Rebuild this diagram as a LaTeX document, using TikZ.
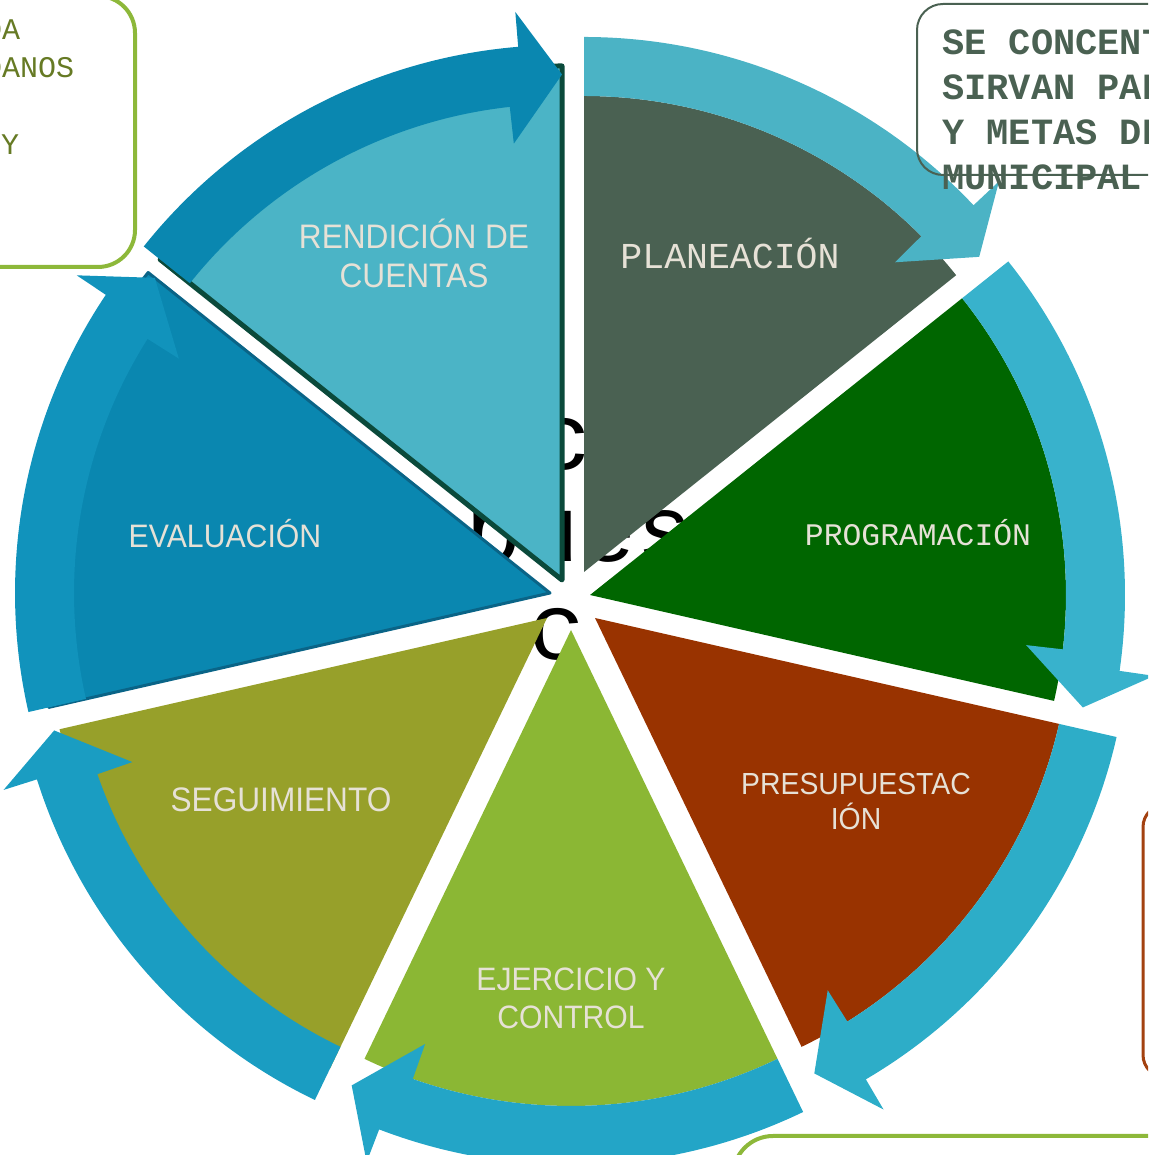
\documentclass[tikz,border=0pt]{standalone}
\usepackage{fontspec}
\setmainfont{Liberation Sans}
\newfontfamily\monofnt{Liberation Mono}
\newfontfamily\lblfont[FakeStretch=0.93]{Liberation Sans}
\definecolor{cPlan}{HTML}{4A6152}
\definecolor{cProg}{HTML}{006600}
\definecolor{cPres}{HTML}{993300}
\definecolor{cEjer}{HTML}{8BB734}
\definecolor{cSegu}{HTML}{97A02A}
\definecolor{cEval}{HTML}{0A87B0}
\definecolor{cRend}{HTML}{4BB4C6}
\definecolor{bEval}{HTML}{0A6487}
\definecolor{bRend}{HTML}{0B4A3B}
\definecolor{aPlan}{HTML}{4BB3C5}
\definecolor{aProg}{HTML}{38B2CC}
\definecolor{aPres}{HTML}{2DADC8}
\definecolor{aEjer}{HTML}{23A5C7}
\definecolor{aSegu}{HTML}{1A9DC2}
\definecolor{aEval}{HTML}{1193BC}
\definecolor{aRend}{HTML}{0A87B0}
\definecolor{lbl}{HTML}{E6E1D6}
\definecolor{boxGreen}{HTML}{8DB83A}
\definecolor{boxOlive}{HTML}{667A24}
\definecolor{boxBrown}{HTML}{A34110}
% wedge: cx, cy, a, b, R, style
\newcommand\mywedge[6]{%
  \fill[#6, shift={(#1,#2)}] (0,0) -- (#3:#5) arc[start angle=#3, end angle=#4, radius=#5] -- cycle;}
% cycle arrow: cx, cy, a, b, color
\newcommand\myarrow[5]{%
  \fill[#5, shift={(#1,#2)}] (#3:535) arc[start angle=#3, end angle={#4+4.7}, radius=535]
    -- ({#4+4.7}:570) -- (#4:505.5) -- ({#4+6.3}:439) -- ({#4+6.3}:476)
    arc[start angle={#4+6.3}, end angle=#3, radius=476] -- cycle;}
\tikzset{
  sanslbl/.style={text=lbl, inner sep=0pt, anchor=base},
  monolbl/.style={text=lbl, inner sep=0pt, anchor=base, font=\monofnt},
  bgtext/.style={text=black, inner sep=0pt, anchor=base, font=\monofnt\fontsize{95}{95}\selectfont},
  boxline/.style={line width=4pt}
}
\begin{document}
\begin{tikzpicture}[x=1pt,y=1pt]
\clip (0,0) rectangle (1148,1155);
% glyphs of a text lying behind the cycle (only seen through the gaps)
\node[bgtext] (bg1) at (563,685) {c};
\node[bgtext] (bg2) at (580,593) {pues};
\node[bgtext] (bg3) at (557,495) {c};
% wedges
\mywedge{584}{583}{90}{38.571}{476}{cPlan}
\mywedge{590}{560}{38.571}{-12.857}{476}{cProg}
\mywedge{595}{537}{-12.857}{-64.286}{476}{cPres}
\mywedge{571}{525}{-64.286}{-115.714}{476}{cEjer}
\mywedge{547}{537}{-115.714}{-167.143}{500}{cSegu}
\mywedge{550}{562}{-167.143}{-218.571}{514}{cEval, draw=bEval, line width=3pt, line join=round}
\mywedge{562}{575}{141.429}{90}{514}{cRend, draw=bRend, line width=5pt, line join=round}
% arrows
\myarrow{584}{583}{90}{38.571}{aPlan}
\myarrow{590}{560}{38.571}{-12.857}{aProg}
\myarrow{595}{537}{-12.857}{-64.286}{aPres}
\myarrow{571}{525}{-64.286}{-115.714}{aEjer}
\myarrow{547}{537}{-115.714}{-167.143}{aSegu}
\myarrow{550}{562}{-167.143}{-218.571}{aEval}
\myarrow{562}{575}{141.429}{90}{aRend}
% labels
\node[sanslbl, font=\lblfont\fontsize{34}{39}\selectfont] (rend1) at (414,906) {RENDICIÓN DE};
\node[sanslbl, font=\lblfont\fontsize{34}{39}\selectfont] (rend2) at (414,867) {CUENTAS};
\node[monolbl, font=\monofnt\fontsize{36.5}{40}\selectfont] (plan) at (730,886) {PLANEACIÓN};
\node[monolbl, font=\monofnt\fontsize{31.4}{36}\selectfont] (prog) at (918,609) {PROGRAMACIÓN};
\node[sanslbl, font=\lblfont\fontsize{30.5}{35}\selectfont] (pres1) at (856,360) {PRESUPUESTAC};
\node[sanslbl, font=\lblfont\fontsize{30.5}{35}\selectfont] (pres2) at (856,325) {IÓN};
\node[sanslbl, font=\lblfont\fontsize{32.4}{38}\selectfont] (ejer1) at (571,164) {EJERCICIO Y};
\node[sanslbl, font=\lblfont\fontsize{32.4}{38}\selectfont] (ejer2) at (571,126) {CONTROL};
\node[sanslbl, font=\lblfont\fontsize{34}{38}\selectfont] (segu) at (281,343) {SEGUIMIENTO};
\node[sanslbl, font=\lblfont\fontsize{32.5}{38}\selectfont] (eval) at (225,607) {EVALUACIÓN};
% text boxes
\draw[boxline, draw=boxGreen, rounded corners=37pt] (-80,1159) rectangle (135,888);
\node[inner sep=0pt, anchor=base west, text=boxOlive, font=\monofnt\fontsize{30}{38}\selectfont] (tl1) at (-16,1115) {DA};
\node[inner sep=0pt, anchor=base west, text=boxOlive, font=\monofnt\fontsize{30}{38}\selectfont] (tl2) at (-16,1077) {DANOS};
\node[inner sep=0pt, anchor=base west, text=boxOlive, font=\monofnt\fontsize{30}{38}\selectfont] (tl3) at (1,1000) {Y};
\draw[line width=2pt, draw=cPlan, rounded corners=26pt] (917,1151) rectangle (1250,980);
\node[inner sep=0pt, anchor=base west, text=cPlan, font=\monofnt\bfseries\fontsize{37}{45}\selectfont] (tr1) at (942,1100) {SE CONCENT};
\node[inner sep=0pt, anchor=base west, text=cPlan, font=\monofnt\bfseries\fontsize{37}{45}\selectfont] (tr2) at (942,1055) {SIRVAN PAR};
\node[inner sep=0pt, anchor=base west, text=cPlan, font=\monofnt\bfseries\fontsize{37}{45}\selectfont] (tr3) at (942,1010) {Y METAS DE};
\node[inner sep=0pt, anchor=base west, text=cPlan, font=\monofnt\bfseries\fontsize{37}{45}\selectfont] (tr4) at (942,965) {MUNICIPAL};
\draw[line width=3pt, draw=boxBrown, rounded corners=22pt] (1143,350) rectangle (1250,78);
\draw[boxline, draw=boxGreen, rounded corners=40pt] (733,19) rectangle (1250,-100);
\end{tikzpicture}
\end{document}
